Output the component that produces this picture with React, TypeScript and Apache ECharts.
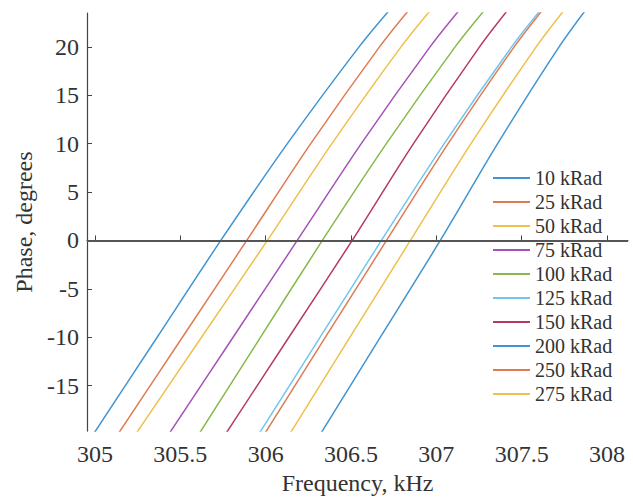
import React, { useEffect, useRef } from "react";
import * as echarts from "echarts";

const seriesNames = [
  "10 kRad", "25 kRad", "50 kRad", "75 kRad", "100 kRad",
  "125 kRad", "150 kRad", "200 kRad", "250 kRad", "275 kRad",
];

const colors = [
  "#3f95d3", "#e07a52", "#efc04a", "#a451b8", "#86b94a",
  "#72c6ee", "#b53a5e", "#3f95d3", "#e07a52", "#efc04a",
];

// phase levels (degrees) at which each curve's frequency (kHz) was read
const phaseLevels = [-20, -10, 0, 10, 20, 24];

const f10 = [304.991, 305.364, 305.737, 306.127, 306.547, 306.735];
const f25 = [305.135, 305.512, 305.889, 306.264, 306.667, 306.848];
const f50 = [305.239, 305.624, 306.010, 306.388, 306.793, 306.976];
const f75 = [305.433, 305.809, 306.185, 306.560, 306.963, 307.144];
const f100 = [305.609, 305.970, 306.332, 306.707, 307.110, 307.292];
const f125 = [305.960, 306.319, 306.678, 307.046, 307.441, 307.619];
const f150 = [305.765, 306.136, 306.507, 306.866, 307.253, 307.427];
const f200 = [306.321, 306.672, 307.023, 307.359, 307.719, 307.883];
const f250 = [305.993, 306.350, 306.708, 307.069, 307.456, 307.631];
const f275 = [306.141, 306.494, 306.848, 307.203, 307.585, 307.758];

const freqs = [f10, f25, f50, f75, f100, f125, f150, f200, f250, f275];

const xTicks = [305, 305.5, 306, 306.5, 307, 307.5, 308];
const yTicks = [-15, -10, -5, 0, 5, 10, 15, 20];

const FONT = "'Liberation Serif', 'Times New Roman', serif";
const TEXT = "#333";

export default function App() {
  const ref = useRef<HTMLDivElement>(null);

  useEffect(() => {
    if (!ref.current) return;
    const chart = echarts.init(ref.current, undefined, { renderer: "svg" });

    const series: any[] = seriesNames.map((name, i) => ({
      name,
      type: "line",
      data: phaseLevels.map((p, j) => [freqs[i][j], p]),
      symbol: "none",
      smooth: 0.3,
      clip: true,
      lineStyle: { color: colors[i], width: 1.5 },
      itemStyle: { color: colors[i] },
      z: 2,
    }));
    series[0].markLine = {
      silent: true,
      symbol: "none",
      label: { show: false },
      lineStyle: { color: "#555", width: 2, type: "solid" },
      data: [{ yAxis: 0 }],
      z: 10,
    };

    chart.setOption({
      animation: false,
      backgroundColor: "#fff",
      grid: { left: 87, right: 5, top: 13, bottom: 66, containLabel: false },
      legend: {
        orient: "vertical",
        left: 493,
        top: 168,
        padding: 0,
        icon: "rect",
        itemWidth: 37,
        itemHeight: 2,
        itemGap: 4,
        textStyle: {
          fontFamily: FONT,
          fontSize: 20,
          lineHeight: 19,
          color: TEXT,
          padding: [0, 0, 0, 0],
        },
        data: seriesNames,
      },
      xAxis: {
        type: "value",
        min: 304.953,
        max: 308.123,
        name: "Frequency, kHz",
        nameLocation: "middle",
        nameGap: 38,
        nameTextStyle: { fontFamily: FONT, fontSize: 24, color: TEXT },
        axisLine: { show: true, lineStyle: { color: "#444", width: 1.2 } },
        axisTick: {
          show: true,
          inside: true,
          length: 5,
          customValues: xTicks,
          lineStyle: { color: "#444" },
        },
        axisLabel: {
          customValues: xTicks,
          fontFamily: FONT,
          fontSize: 24,
          color: TEXT,
          margin: 11,
          formatter: (v: number) => String(v),
        },
        splitLine: { show: false },
      },
      yAxis: {
        type: "value",
        min: -19.7,
        max: 23.5,
        name: "Phase, degrees",
        nameLocation: "middle",
        nameGap: 47,
        nameRotate: 90,
        nameTextStyle: { fontFamily: FONT, fontSize: 24, color: TEXT },
        axisLine: { show: true, lineStyle: { color: "#444", width: 1.2 } },
        axisTick: {
          show: true,
          inside: true,
          length: 5,
          customValues: yTicks,
          lineStyle: { color: "#444" },
        },
        axisLabel: {
          customValues: yTicks,
          fontFamily: FONT,
          fontSize: 24,
          color: TEXT,
          margin: 8,
          formatter: (v: number) => String(v),
        },
        splitLine: { show: false },
      },
      series,
    });

    return () => chart.dispose();
  }, []);

  return (
    <div
      ref={ref}
      style={{ position: "fixed", left: 0, top: 0, width: 633, height: 500 }}
    />
  );
}
